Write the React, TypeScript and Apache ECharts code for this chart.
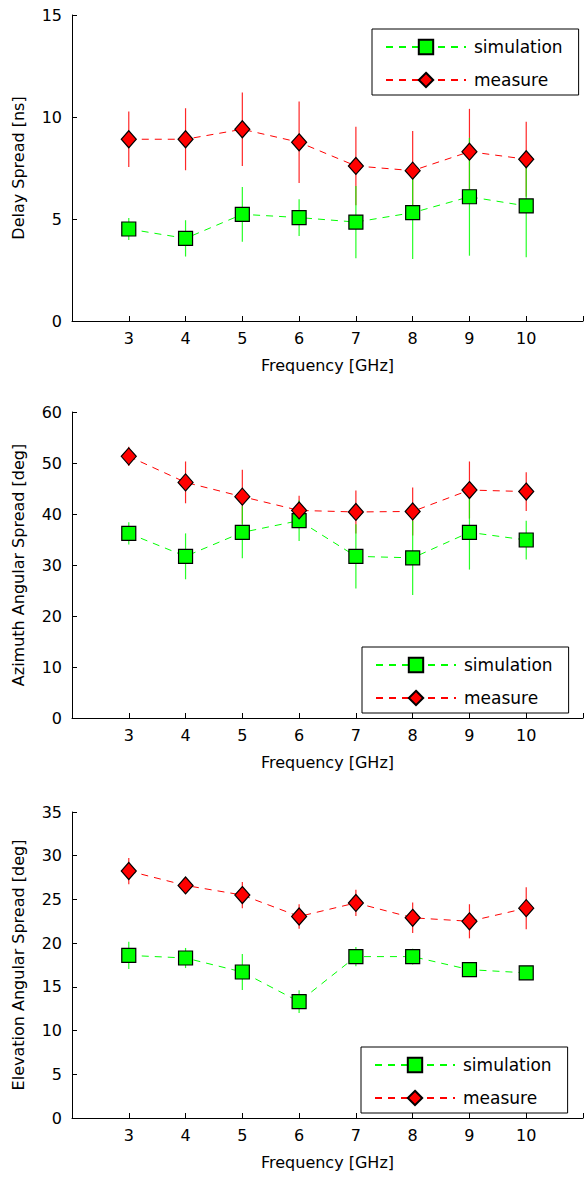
import React, { useEffect, useRef } from "react";
import * as echarts from "echarts";

const freq = [3, 4, 5, 6, 7, 8, 9, 10];
const xTickLabels = ["3", "4", "5", "6", "7", "8", "9", "10"];

const delaySim = [4.51, 4.05, 5.23, 5.07, 4.85, 5.31, 6.09, 5.64];
const delaySimErr = [0.54, 0.89, 1.34, 0.9, 1.77, 2.27, 2.89, 2.52];
const delayMeas = [8.91, 8.91, 9.4, 8.76, 7.6, 7.37, 8.3, 7.93];
const delayMeasErr = [1.36, 1.52, 1.8, 2.0, 1.92, 1.94, 2.1, 1.84];

const azSim = [36.2, 31.7, 36.4, 38.7, 31.7, 31.4, 36.4, 34.9];
const azSimErr = [2.2, 4.5, 5.1, 4.0, 6.3, 7.3, 7.3, 3.8];
const azMeas = [51.3, 46.2, 43.4, 40.7, 40.4, 40.5, 44.7, 44.4];
const azMeasErr = [1.9, 4.1, 5.3, 2.9, 4.2, 4.7, 5.6, 3.8];

const elSim = [18.6, 18.3, 16.7, 13.3, 18.46, 18.46, 16.97, 16.6];
const elSimErr = [1.55, 1.15, 2.05, 1.3, 1.1, 0.9, 0.5, 0.4];
const elMeas = [28.25, 26.6, 25.5, 23.05, 24.6, 22.9, 22.5, 24.0];
const elMeasErr = [1.5, 0.6, 1.5, 1.4, 1.5, 1.75, 1.95, 2.4];

const panelNames = ["Delay Spread [ns]", "Azimuth Angular Spread [deg]", "Elevation Angular Spread [deg]"];
const yMax = [15, 60, 35];
const yInterval = [5, 10, 5];
const xName = "Frequency [GHz]";
const seriesNames = ["simulation", "measure"];

const FONT = "DejaVu Sans, Verdana, sans-serif";
const GREEN = "#00ff00";
const RED = "#ff0000";

const panels = [
  { sim: delaySim, simErr: delaySimErr, meas: delayMeas, measErr: delayMeasErr },
  { sim: azSim, simErr: azSimErr, meas: azMeas, measErr: azMeasErr },
  { sim: elSim, simErr: elSimErr, meas: elMeas, measErr: elMeasErr },
];

const gridTops = [15, 412, 812];
const gridHeight = 306;
const legendPos = [
  { left: 372, top: 29 },
  { left: 362, top: 647 },
  { left: 361, top: 1047 },
];

function errRender(color: string) {
  return (params: any, api: any) => {
    const x = api.value(0);
    const p1 = api.coord([x, api.value(1)]);
    const p2 = api.coord([x, api.value(2)]);
    return {
      type: "line",
      shape: { x1: p1[0], y1: p1[1], x2: p2[0], y2: p2[1] },
      style: { stroke: color, lineWidth: 1.2, opacity: 0.85 },
    };
  };
}

export default function App() {
  const ref = useRef<HTMLDivElement>(null);
  useEffect(() => {
    if (!ref.current) return;
    const chart = echarts.init(ref.current, null, { renderer: "svg" });
    const grid: any[] = [];
    const xAxis: any[] = [];
    const yAxis: any[] = [];
    const series: any[] = [];
    const legend: any[] = [];
    panels.forEach((p, i) => {
      grid.push({ left: 72, right: 0, top: gridTops[i], height: gridHeight });
      xAxis.push({
        type: "value",
        gridIndex: i,
        min: 2,
        max: 11,
        interval: 1,
        name: xName,
        nameLocation: "middle",
        nameGap: 36,
        nameTextStyle: { fontFamily: FONT, fontSize: 16, color: "#000" },
        axisLine: { lineStyle: { color: "#000", width: 1 } },
        axisTick: { inside: true, length: 5, lineStyle: { color: "#000" } },
        axisLabel: {
          fontFamily: FONT,
          fontSize: 16,
          color: "#000",
          margin: 9,
          formatter: (v: number) => {
            const idx = freq.indexOf(v);
            return idx >= 0 ? xTickLabels[idx] : "";
          },
        },
        splitLine: { show: false },
      });
      yAxis.push({
        type: "value",
        gridIndex: i,
        min: 0,
        max: yMax[i],
        interval: yInterval[i],
        name: panelNames[i],
        nameLocation: "middle",
        nameGap: 46,
        nameTextStyle: { fontFamily: FONT, fontSize: 16, color: "#000" },
        axisLine: { show: true, lineStyle: { color: "#000", width: 1 } },
        axisTick: { show: true, inside: true, length: 5, lineStyle: { color: "#000" } },
        axisLabel: { fontFamily: FONT, fontSize: 16, color: "#000", margin: 10 },
        splitLine: { show: false },
      });
      series.push({
        type: "custom",
        name: "measure error",
        xAxisIndex: i,
        yAxisIndex: i,
        z: 1,
        renderItem: errRender(RED),
        encode: { x: 0, y: [1, 2] },
        data: freq.map((f, k) => [f, p.meas[k] - p.measErr[k], p.meas[k] + p.measErr[k]]),
      });
      series.push({
        type: "custom",
        name: "simulation error",
        xAxisIndex: i,
        yAxisIndex: i,
        z: 1,
        renderItem: errRender(GREEN),
        encode: { x: 0, y: [1, 2] },
        data: freq.map((f, k) => [f, p.sim[k] - p.simErr[k], p.sim[k] + p.simErr[k]]),
      });
      series.push({
        type: "line",
        name: seriesNames[0],
        xAxisIndex: i,
        yAxisIndex: i,
        z: 3,
        symbol: "rect",
        symbolSize: 14,
        lineStyle: { color: GREEN, width: 1, type: [7, 6] },
        itemStyle: { color: GREEN, borderColor: "#000", borderWidth: 1.2 },
        data: freq.map((f, k) => [f, p.sim[k]]),
      });
      series.push({
        type: "line",
        name: seriesNames[1],
        xAxisIndex: i,
        yAxisIndex: i,
        z: 4,
        symbol: "diamond",
        symbolSize: [15, 17],
        lineStyle: { color: RED, width: 1, type: [7, 6] },
        itemStyle: { color: RED, borderColor: "#000", borderWidth: 1.2 },
        data: freq.map((f, k) => [f, p.meas[k]]),
      });
      legend.push({
        data: seriesNames,
        orient: "vertical",
        left: legendPos[i].left,
        top: legendPos[i].top,
        itemWidth: 80,
        itemHeight: 18,
        itemGap: 13,
        padding: [8, 16, 5, 13],
        borderColor: "#000",
        borderWidth: 1,
        backgroundColor: "#fff",
        selectedMode: false,
        textStyle: { fontFamily: FONT, fontSize: 17, color: "#000", padding: [0, 0, 0, 3], lineHeight: 20 },
      });
    });
    chart.setOption({
      animation: false,
      backgroundColor: "#fff",
      grid,
      xAxis,
      yAxis,
      series,
      legend,
    });
    return () => chart.dispose();
  }, []);
  return (
    <div
      ref={ref}
      style={{ position: "absolute", left: 0, top: 0, width: 586, height: 1180 }}
    />
  );
}
